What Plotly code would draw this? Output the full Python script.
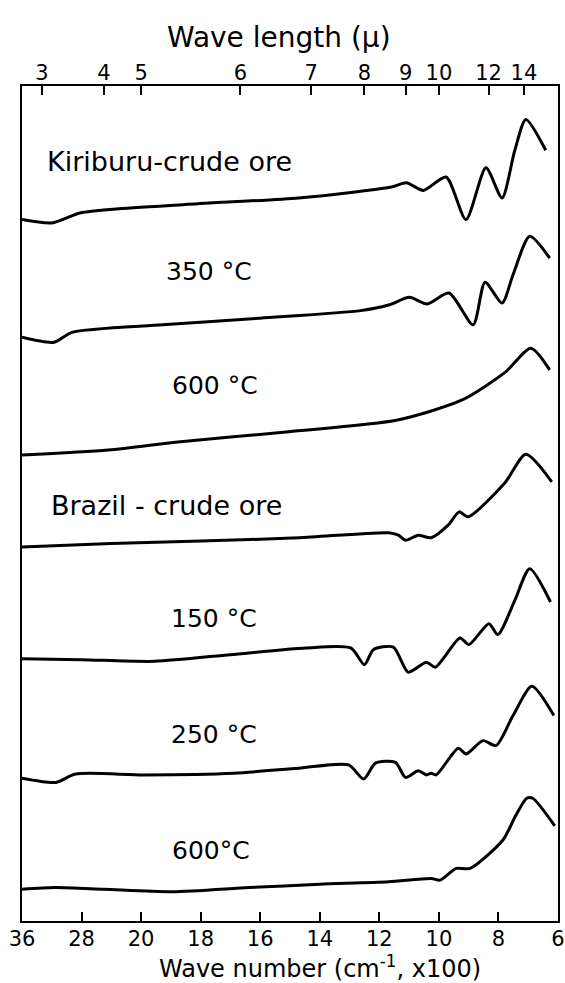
import plotly.graph_objects as go

# ---------------- data (wave number in cm-1, relative signal in arbitrary units, spectra stacked) ----
kiri_crude_wn = [3600, 3200, 2820, 2300, 1810, 1470, 1159, 1109, 1052, 976, 909, 842, 788, 745, 708, 641]
kiri_crude_v = [84.0, 83.6, 84.8, 85.3, 85.9, 86.6, 87.9, 88.4, 87.5, 89.1, 84.0, 90.2, 86.6, 92.3, 96.0, 92.3]

kiri_350_wn = [3600, 3170, 2930, 1928, 1600, 1263, 1166, 1099, 1039, 966, 885, 845, 788, 751, 695, 628]
kiri_350_v = [69.9, 69.3, 70.5, 71.4, 72.2, 73.1, 73.8, 74.7, 73.9, 75.2, 71.4, 76.5, 74.0, 77.4, 82.0, 79.4]

kiri_600_wn = [3600, 2440, 1868, 1504, 1139, 922, 778, 691, 628]
kiri_600_v = [55.8, 56.4, 57.4, 58.6, 60.0, 62.4, 65.7, 68.6, 66.0]

braz_crude_wn = [3600, 2400, 1800, 1470, 1169, 1136, 1112, 1069, 1026, 969, 932, 902, 778, 708, 621]
braz_crude_v = [44.8, 45.2, 45.5, 45.9, 46.5, 46.2, 45.6, 46.2, 45.9, 47.4, 49.0, 48.4, 52.5, 55.9, 52.6]

braz_150_wn = [3600, 2800, 1955, 1700, 1447, 1296, 1250, 1220, 1153, 1103, 1042, 1012, 929, 899, 832, 802,
               745, 695, 625]
braz_150_v = [31.4, 31.3, 31.1, 31.9, 32.7, 32.7, 30.7, 32.5, 32.8, 29.8, 31.0, 30.4, 33.9, 33.1, 35.6, 34.3,
              38.4, 42.2, 38.2]

braz_250_wn = [3600, 3145, 2880, 1990, 1688, 1470, 1303, 1253, 1213, 1146, 1112, 1069, 1042, 1026, 1009,
               935, 909, 852, 808, 751, 688, 614]
braz_250_v = [17.1, 16.6, 17.6, 17.5, 17.7, 18.3, 18.7, 17.0, 18.9, 19.0, 17.2, 18.0, 17.5, 17.7, 17.5,
              20.7, 20.0, 21.6, 21.0, 24.6, 28.1, 24.6]

braz_600_wn = [3600, 3158, 2500, 1895, 1638, 1400, 1169, 1026, 996, 942, 895, 785, 741, 705, 685, 611]
braz_600_v = [3.8, 4.0, 3.8, 3.5, 4.0, 4.4, 4.7, 5.1, 4.9, 6.3, 6.3, 9.7, 12.7, 14.7, 14.7, 11.4]

spectra = [
    ("Kiriburu-crude ore", kiri_crude_wn, kiri_crude_v),
    ("350 °C", kiri_350_wn, kiri_350_v),
    ("600 °C", kiri_600_wn, kiri_600_v),
    ("Brazil - crude ore", braz_crude_wn, braz_crude_v),
    ("150 °C", braz_150_wn, braz_150_v),
    ("250 °C", braz_250_wn, braz_250_v),
    ("600°C", braz_600_wn, braz_600_v),
]

bottom_tick_wn = [3600, 2800, 2000, 1800, 1600, 1400, 1200, 1000, 800, 600]
bottom_tick_text = ["36", "28", "20", "18", "16", "14", "12", "10", "8", "6"]
top_tick_um = [3, 4, 5, 6, 7, 8, 9, 10, 12, 14]
top_tick_text = ["3", "4", "5", "6", "7", "8", "9", "10", "12", "14"]


def wn_to_pos(wn):
    """Chart scale: 800 cm-1 per division above 2000 cm-1, 200 cm-1 per division below."""
    if wn >= 2000:
        return (3600 - wn) / 800.0
    return 2 + (2000 - wn) / 200.0


FONT = "DejaVu Sans"
fig = go.Figure()
for name, wn, v in spectra:
    fig.add_trace(go.Scatter(
        x=[wn_to_pos(w) for w in wn], y=v, mode="lines", name=name,
        line=dict(color="black", width=3, shape="spline", smoothing=0.7),
        hoverinfo="skip", xaxis="x", yaxis="y"))

label_pos = [(0.39, 91.0), (2.39, 77.8), (2.49, 64.1), (0.45, 49.8), (2.47, 36.2), (2.47, 22.3), (2.49, 8.4)]
label_size = [27, 25, 25, 27, 25, 25, 25]
for (name, _, _), (lx, ly), fs in zip(spectra, label_pos, label_size):
    fig.add_annotation(x=lx, y=ly, xref="x", yref="y", text=name, showarrow=False,
                       xanchor="left", yanchor="middle", font=dict(family=FONT, size=fs, color="black"))

fig.add_annotation(x=0.48, y=1.058, xref="paper", yref="paper", text="Wave length (µ)",
                   showarrow=False, xanchor="center", yanchor="middle",
                   font=dict(family=FONT, size=28, color="black"))
fig.add_annotation(x=0.556, y=-0.055, xref="paper", yref="paper",
                   text="Wave number (cm<sup>-1</sup>, x100)",
                   showarrow=False, xanchor="center", yanchor="middle",
                   font=dict(family=FONT, size=24, color="black"))

fig.update_layout(
    width=565, height=983,
    margin=dict(l=22, r=7, t=86, b=62),
    paper_bgcolor="white", plot_bgcolor="white",
    showlegend=False,
    xaxis=dict(range=[0, 9], tickmode="array", automargin=False,
               tickvals=[wn_to_pos(w) for w in bottom_tick_wn], ticktext=bottom_tick_text,
               ticks="inside", ticklen=9, tickwidth=2, tickcolor="black",
               showline=True, linecolor="black", linewidth=2, showgrid=False, zeroline=False,
               tickfont=dict(family=FONT, size=21, color="black"), ticklabelstandoff=-2),
    xaxis2=dict(range=[0, 9], overlaying="x", side="top", anchor="y", tickmode="array", automargin=False,
                tickvals=[wn_to_pos(10000.0 / u) for u in top_tick_um], ticktext=top_tick_text,
                ticks="inside", ticklen=9, tickwidth=2, tickcolor="black",
                showline=True, linecolor="black", linewidth=2, showgrid=False, zeroline=False,
                tickfont=dict(family=FONT, size=21, color="black"), ticklabelstandoff=-4),
    yaxis=dict(range=[0, 100], showticklabels=False, ticks="", showgrid=False, zeroline=False,
               automargin=False, showline=True, mirror=True, linecolor="black", linewidth=2),
)
# invisible trace so the top wavelength axis is drawn
fig.add_trace(go.Scatter(x=[0], y=[0], xaxis="x2", yaxis="y", mode="markers",
                         marker=dict(opacity=0), hoverinfo="skip", showlegend=False))

fig.write_html("out.html", config={"displayModeBar": False},
               post_script="document.body.style.margin='0px';")
